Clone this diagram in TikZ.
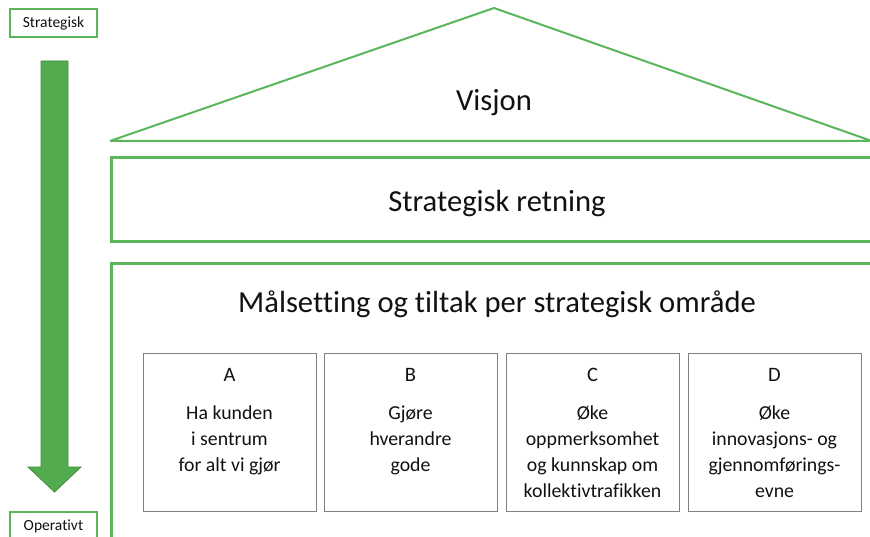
\documentclass[tikz,border=0pt]{standalone}
\usepackage{fontspec}
\setmainfont[Ligatures={NoCommon}]{Carlito}
\definecolor{lgreen}{HTML}{5BB55A}
\definecolor{afill}{HTML}{52AB4F}
\definecolor{aline}{HTML}{3F8F3D}
\definecolor{bgray}{HTML}{7F7F7F}
\definecolor{txt}{HTML}{111111}
\begin{document}
\begin{tikzpicture}[x=1pt,y=-1pt,
  lvl/.style={draw=lgreen,line width=3pt},
  tag/.style={draw=lgreen,line width=1.5pt,minimum width=87pt,minimum height=28pt,inner sep=0pt,font=\fontsize{15.5}{18}\selectfont,text=txt},
  areabox/.style={draw=bgray,line width=1pt,minimum width=173pt,minimum height=158pt,inner sep=0pt},
  bigtxt/.style={font=\fontsize{30.6}{34}\selectfont,text=txt},
  lettertxt/.style={font=\fontsize{20.5}{24}\selectfont,text=txt},
  bodytxt/.style={font=\fontsize{19.8}{26}\selectfont,align=center,inner sep=0pt,anchor=north,text=txt}]
\useasboundingbox (0,0) rectangle (870,537);
\clip (0,0) rectangle (870,537);
% roof
\draw[draw=lgreen,line width=2pt,line join=miter] (110,141) -- (494,8) -- (876,142.5) (110,141) -- (880,141);
\node[bigtxt] (visjon) at (494,103) {Visjon};
% strategic direction
\draw[lvl] (880,158) -- (111,158) -- (111,242) -- (880,242);
\node[bigtxt] (retning) at (497,203.5) {Strategisk retning};
% goals
\draw[lvl] (880,264) -- (111,264) -- (111,545);
\node[bigtxt] (maal) at (497,304) {Målsetting og tiltak per strategisk område};
% area boxes
\foreach \n/\cx/\L/\body in {a/229.5/A/{Ha kunden\\i sentrum\\for alt vi gjør},
  b/410.5/B/{Gjøre\\hverandre\\gode},
  c/592.5/C/{Øke\\oppmerksomhet\\og kunnskap om\\kollektivtrafikken},
  d/774.5/D/{Øke\\innovasjons- og\\gjennomførings-\\evne}}{
  \node[areabox] (box\n) at (\cx,432) {};
  \node[lettertxt] (let\n) at (\cx,375) {\L};
  \node[bodytxt] (body\n) at (\cx,406) {\body};
}
% left scale
\node[tag] (strat) at (53.5,23) {Strategisk};
\node[tag] (oper) at (53.5,526) {Operativt};
\draw[fill=afill,draw=aline,line width=0.8pt]
  (41,61) -- (68,61) -- (68,467) -- (81,467) -- (54.5,492) -- (28,467) -- (41,467) -- cycle;
\end{tikzpicture}
\end{document}
